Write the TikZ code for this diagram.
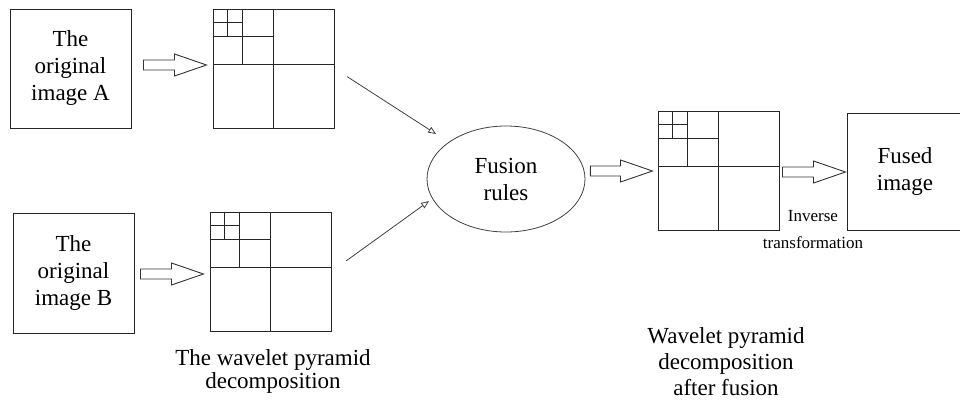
\documentclass[tikz,border=0pt]{standalone}
\usepackage{fontspec}
\setmainfont{Liberation Serif}
\usepackage{tikz}
\usetikzlibrary{arrows}
\usetikzlibrary{calc,positioning,shapes.geometric}

% quadtree lines of a 121x119 pyramid node
\newcommand{\pyramid}[1]{%
  \begin{scope}[shift={(#1.north west)}]
    \draw[grid] (60.5,0) -- (60.5,119) (0,56) -- (121,56)
      (30,0) -- (30,56) (0,28) -- (60.5,28)
      (15,0) -- (15,28) (0,14) -- (30,14);
  \end{scope}}
% hollow block arrow from #1 to #2
\newcommand{\fatarrow}[2]{%
  \draw[fat] ($(#1)+(0,-5)$) -- ($(#2)+(-32,-5)$) -- ($(#2)+(-32,-11)$) -- (#2)
    -- ($(#2)+(-32,11)$) -- ($(#2)+(-32,5)$) -- ($(#1)+(0,5)$) -- cycle;}

\begin{document}
\begin{tikzpicture}[x=1pt, y=-1pt, >=open triangle 45,
  every node/.style={font=\fontsize{23}{27}\selectfont, align=center},
  box/.style={draw=black!85, line width=1pt, minimum width=121pt, minimum height=119pt, inner sep=0pt},
  grid/.style={black!85, line width=1pt},
  fat/.style={black!80, line width=0.9pt, fill=white},
  thinline/.style={black!75, line width=0.8pt}]
\useasboundingbox (0,0) rectangle (960,407);
\clip (0,0) rectangle (960,407);

\node (imgA) [box] at (70.5,68.5) {The\\original\\image A};
\node (imgB) [box, minimum height=120pt] at (73.5,273) {The\\original\\image B};
\node (pyrA) [box] at (273.5,68.5) {};
\node (pyrB) [box] at (270.5,271.5) {};
\node (pyrF) [box] at (718.5,170.5) {};
\node (fusion) [draw=black!75, line width=0.8pt, ellipse, minimum width=158pt, minimum height=106pt, inner sep=0pt] at (506,179) {Fusion\\rules};
\node (fused) [box, minimum width=116pt, minimum height=117pt] at (905,171.5) {Fused\\image};
\pyramid{pyrA}
\pyramid{pyrB}
\pyramid{pyrF}

\coordinate (tA) at ($(imgA.east)+(12,-3.5)$);
\coordinate (hA) at ($(pyrA.west)+(-6,-3.5)$);
\coordinate (tB) at ($(imgB.east)+(6,1)$);
\coordinate (hB) at ($(pyrB.west)+(-6,2.5)$);
\coordinate (tF) at ($(fusion.east)+(5,-8)$);
\coordinate (hF) at ($(pyrF.west)+(-5,0.5)$);
\coordinate (tO) at ($(pyrF.east)+(3,1.5)$);
\coordinate (hO) at ($(fused.west)+(-1,0.5)$);
\fatarrow{tA}{hA}
\fatarrow{tB}{hB}
\fatarrow{tF}{hF}
\fatarrow{tO}{hO}

\draw[->, thinline, shorten <=15pt, shorten >=15pt] (pyrA.east) -- (fusion);
\draw[->, thinline, shorten <=18pt, shorten >=4pt] (pyrB.east) -- (fusion.195);

\node (dec) [font=\fontsize{23}{23}\selectfont] at (273,371.5) {The wavelet pyramid\\decomposition};
\node (after) [font=\fontsize{23}{26}\selectfont] at (726,362) {Wavelet pyramid\\decomposition\\after fusion};
\node (inv) [font=\fontsize{17}{27}\selectfont] at (813,229.5) {Inverse\\transformation};
\end{tikzpicture}
\end{document}
